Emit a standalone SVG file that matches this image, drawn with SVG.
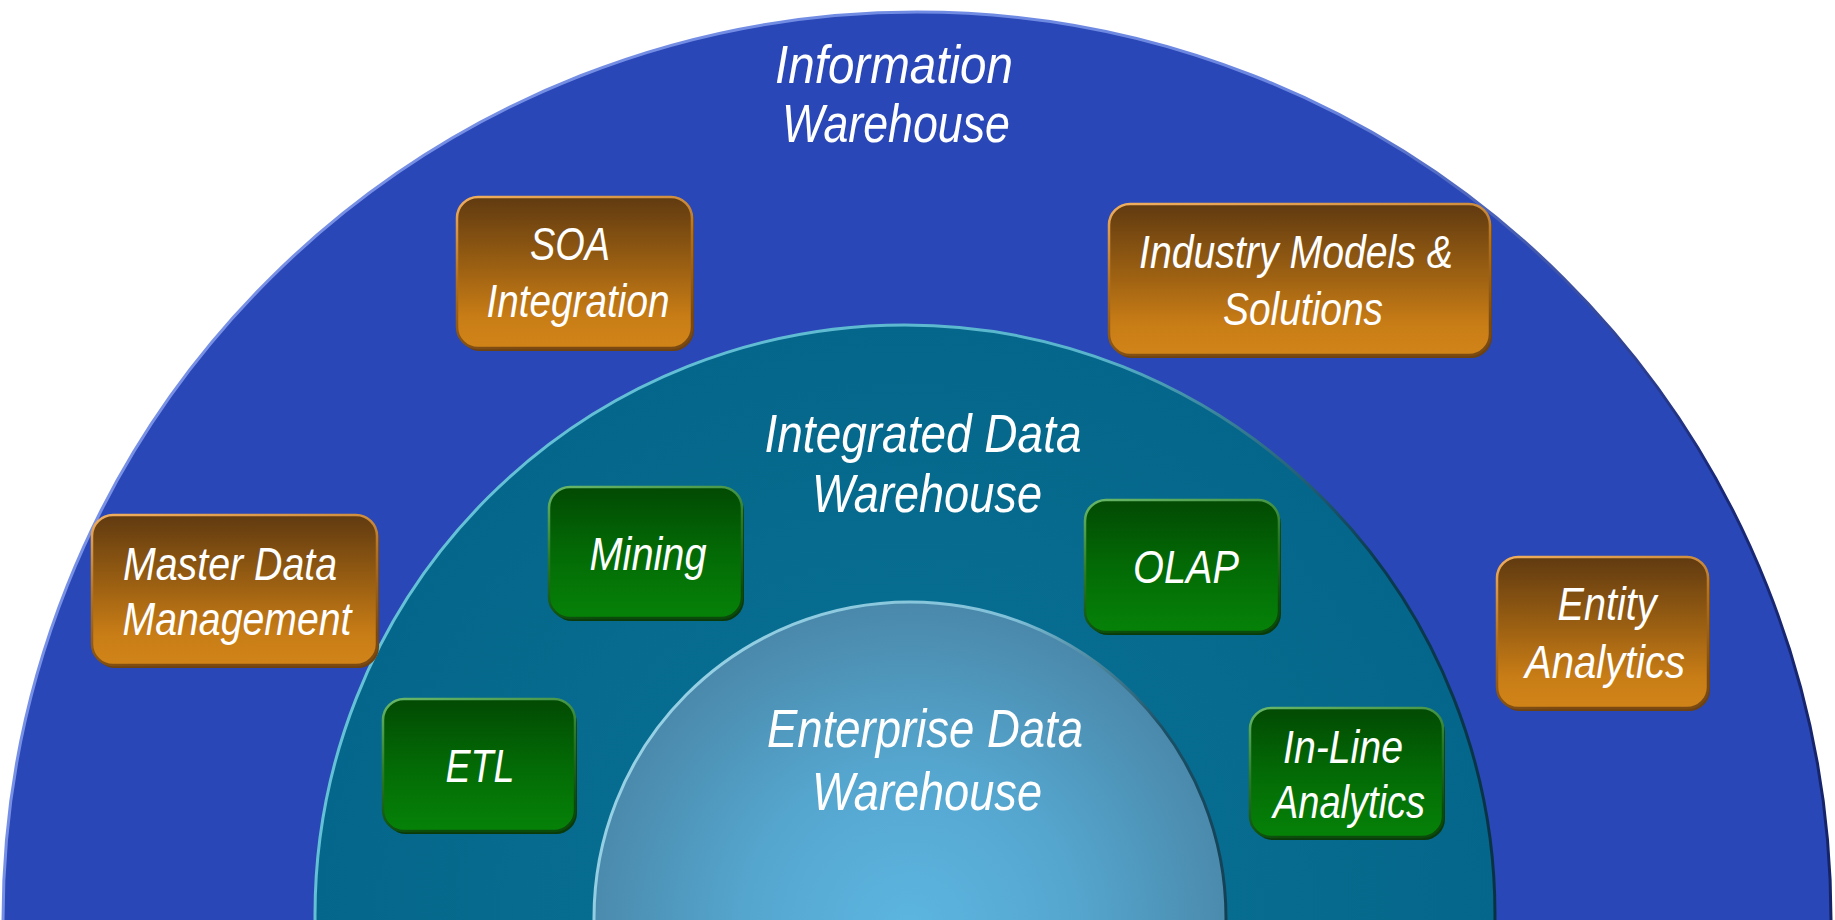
<svg xmlns="http://www.w3.org/2000/svg" width="1835" height="920" viewBox="0 0 1835 920">
<style>
text{font-family:"Liberation Sans",Arial,sans-serif;font-style:italic;fill:#ffffff;text-anchor:middle}
.t{font-size:53px}
.b{font-size:46px}
.orange{fill:url(#gOrange);stroke:url(#gOrangeRim);stroke-width:2.5}
.green{fill:url(#gGreen);stroke:url(#gGreenRim);stroke-width:2.5}
.oshadow{fill:#6e4210}
.gshadow{fill:#0a3a0a}
</style>
<defs>
<linearGradient id="gOrange" x1="0" y1="0" x2="0" y2="1">
<stop offset="0" stop-color="#603a10"/>
<stop offset="0.45" stop-color="#9a5f12"/>
<stop offset="0.8" stop-color="#c97d16"/>
<stop offset="1" stop-color="#d08418"/>
</linearGradient>
<linearGradient id="gOrangeRim" x1="0" y1="0" x2="0.3" y2="1">
<stop offset="0" stop-color="#f0b060"/>
<stop offset="0.5" stop-color="#b07020"/>
<stop offset="1" stop-color="#7a4a12"/>
</linearGradient>
<linearGradient id="gGreen" x1="0" y1="0" x2="0" y2="1">
<stop offset="0" stop-color="#024a03"/>
<stop offset="0.5" stop-color="#036a05"/>
<stop offset="1" stop-color="#068208"/>
</linearGradient>
<linearGradient id="gGreenRim" x1="0" y1="0" x2="0.3" y2="1">
<stop offset="0" stop-color="#6ab86a"/>
<stop offset="0.5" stop-color="#2a7a2a"/>
<stop offset="1" stop-color="#0a4a0a"/>
</linearGradient>
<linearGradient id="gOuterRim" x1="0" y1="0" x2="1" y2="0.6">
<stop offset="0" stop-color="#7d95e8"/>
<stop offset="0.55" stop-color="#6a86e0"/>
<stop offset="0.8" stop-color="#1a2a7a"/>
<stop offset="1" stop-color="#142060"/>
</linearGradient>
<linearGradient id="gMidRim" x1="0" y1="0" x2="1" y2="0.6">
<stop offset="0" stop-color="#6cc8dc"/>
<stop offset="0.5" stop-color="#58b4cc"/>
<stop offset="0.75" stop-color="#0a3a50"/>
<stop offset="1" stop-color="#083040"/>
</linearGradient>
<linearGradient id="gInRim" x1="0" y1="0" x2="1" y2="0.6">
<stop offset="0" stop-color="#a0d8ea"/>
<stop offset="0.5" stop-color="#80c0d8"/>
<stop offset="0.75" stop-color="#1a5066"/>
<stop offset="1" stop-color="#123c50"/>
</linearGradient>
<radialGradient id="gInner" cx="910" cy="930" r="330" gradientUnits="userSpaceOnUse">
<stop offset="0" stop-color="#5cb6e0"/>
<stop offset="0.5" stop-color="#55a6cf"/>
<stop offset="1" stop-color="#4a88aa"/>
</radialGradient>
<radialGradient id="gMid" cx="905" cy="915" r="600" gradientUnits="userSpaceOnUse">
<stop offset="0" stop-color="#0a7496"/>
<stop offset="1" stop-color="#04668a"/>
</radialGradient>
</defs>
<rect width="1835" height="920" fill="#ffffff"/>
<g id="rings">
<ellipse id="outer" cx="917" cy="920" rx="914" ry="908" fill="#2947b6" stroke="url(#gOuterRim)" stroke-width="3"/>
<circle id="middle" cx="905" cy="915" r="590" fill="url(#gMid)" stroke="url(#gMidRim)" stroke-width="3"/>
<circle id="inner" cx="910" cy="918" r="316" fill="url(#gInner)" stroke="url(#gInRim)" stroke-width="3"/>
</g>
<g id="ring-labels">
<g id="information-warehouse">
<text class="t" x="894" y="83" textLength="238" lengthAdjust="spacingAndGlyphs">Information</text>
<text class="t" x="896" y="142" textLength="228" lengthAdjust="spacingAndGlyphs">Warehouse</text>
</g>
<g id="integrated-data-warehouse">
<text class="t" x="923" y="452" textLength="317" lengthAdjust="spacingAndGlyphs">Integrated Data</text>
<text class="t" x="927" y="512" textLength="230" lengthAdjust="spacingAndGlyphs">Warehouse</text>
</g>
<g id="enterprise-data-warehouse">
<text class="t" x="925" y="747" textLength="316" lengthAdjust="spacingAndGlyphs">Enterprise Data</text>
<text class="t" x="927" y="810" textLength="230" lengthAdjust="spacingAndGlyphs">Warehouse</text>
</g>
</g>
<g id="connectors"></g>
<g id="soa-integration">
<rect class="oshadow" x="459" y="200" width="235" height="151" rx="21"/>
<rect class="orange" x="457" y="197" width="235" height="151" rx="21"/>
<text class="b" x="570" y="260" textLength="80" lengthAdjust="spacingAndGlyphs">SOA</text>
<text class="b" x="578" y="317" textLength="183" lengthAdjust="spacingAndGlyphs">Integration</text>
</g>
<g id="industry-models">
<rect class="oshadow" x="1111" y="207" width="381" height="151" rx="21"/>
<rect class="orange" x="1109" y="204" width="381" height="151" rx="21"/>
<text class="b" x="1296" y="268" textLength="314" lengthAdjust="spacingAndGlyphs">Industry Models &amp;</text>
<text class="b" x="1303" y="325" textLength="160" lengthAdjust="spacingAndGlyphs">Solutions</text>
</g>
<g id="master-data-management">
<rect class="oshadow" x="94" y="518" width="285" height="150" rx="21"/>
<rect class="orange" x="92" y="515" width="285" height="150" rx="21"/>
<text class="b" x="230" y="580" textLength="214" lengthAdjust="spacingAndGlyphs">Master Data</text>
<text class="b" x="237" y="635" textLength="229" lengthAdjust="spacingAndGlyphs">Management</text>
</g>
<g id="entity-analytics">
<rect class="oshadow" x="1499" y="560" width="211" height="151" rx="21"/>
<rect class="orange" x="1497" y="557" width="211" height="151" rx="21"/>
<text class="b" x="1607" y="620" textLength="99" lengthAdjust="spacingAndGlyphs">Entity</text>
<text class="b" x="1605" y="678" textLength="160" lengthAdjust="spacingAndGlyphs">Analytics</text>
</g>
<g id="mining">
<rect class="gshadow" x="551" y="490" width="193" height="131" rx="21"/>
<rect class="green" x="549" y="487" width="193" height="131" rx="21"/>
<text class="b" x="648" y="570" textLength="117" lengthAdjust="spacingAndGlyphs">Mining</text>
</g>
<g id="etl">
<rect class="gshadow" x="385" y="702" width="192" height="132" rx="21"/>
<rect class="green" x="383" y="699" width="192" height="132" rx="21"/>
<text class="b" x="480" y="782" textLength="69" lengthAdjust="spacingAndGlyphs">ETL</text>
</g>
<g id="olap">
<rect class="gshadow" x="1087" y="503" width="194" height="132" rx="21"/>
<rect class="green" x="1085" y="500" width="194" height="132" rx="21"/>
<text class="b" x="1186" y="583" textLength="106" lengthAdjust="spacingAndGlyphs">OLAP</text>
</g>
<g id="in-line-analytics">
<rect class="gshadow" x="1252" y="711" width="193" height="129" rx="21"/>
<rect class="green" x="1250" y="708" width="193" height="129" rx="21"/>
<text class="b" x="1343" y="763" textLength="120" lengthAdjust="spacingAndGlyphs">In-Line</text>
<text class="b" x="1349" y="818" textLength="152" lengthAdjust="spacingAndGlyphs">Analytics</text>
</g>
</svg>
